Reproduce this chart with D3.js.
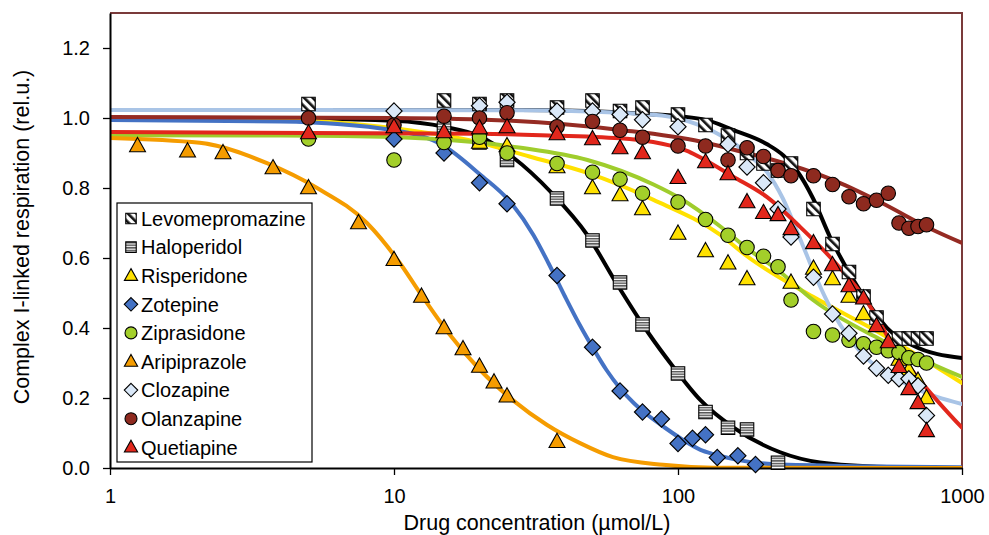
<!DOCTYPE html>
<html><head><meta charset="utf-8">
<script src="https://cdn.jsdelivr.net/npm/d3@7"></script>
<style>body{margin:0;background:#fff}svg{display:block}text{font-family:"Liberation Sans",Arial,sans-serif;fill:#000}</style>
</head><body><svg id="c" width="989" height="535"></svg>
<script>
// ---------- data ----------
const xTicks = [1, 10, 100, 1000];
const yTicks = [0, 0.2, 0.4, 0.6, 0.8, 1.0, 1.2];
const drugNames = ["Levomepromazine","Haloperidol","Risperidone","Zotepine","Ziprasidone","Aripiprazole","Clozapine","Olanzapine","Quetiapine"];

const concLevo = [5,15,20,25,37.5,50,62.5,75,100,125,150,175,200,225,250,300,350,400,450,500,600,650,700,750];
const valLevo  = [1.04,1.05,1.04,1.05,1.03,1.05,1.02,1.03,1.01,0.98,0.95,0.90,0.87,0.85,0.87,0.74,0.64,0.56,0.49,0.43,0.37,0.37,0.37,0.37];
const concHalo = [15,20,25,37.5,50,62.5,75,100,125,150,175,225];
const valHalo  = [0.97,0.93,0.88,0.77,0.65,0.53,0.41,0.27,0.16,0.115,0.11,0.015];
const concRisp = [20,25,37.5,50,62.5,75,100,125,150,175,250,300,350,400,450,600,650,700,750];
const valRisp  = [0.93,0.92,0.86,0.80,0.78,0.74,0.67,0.62,0.585,0.54,0.53,0.57,0.54,0.49,0.44,0.31,0.28,0.25,0.20];
const concZote = [10,15,20,25,37.5,50,62.5,75,87.5,100,112.5,125,137.5,162.5,187.5];
const valZote  = [0.94,0.90,0.815,0.755,0.55,0.345,0.22,0.16,0.14,0.07,0.085,0.095,0.03,0.035,0.01];
const concZipr = [5,10,15,20,25,37.5,50,62.5,75,100,125,150,175,200,225,250,300,350,400,450,500,550,600,650,700,750];
const valZipr  = [0.94,0.88,0.93,0.945,0.90,0.87,0.845,0.825,0.785,0.76,0.71,0.665,0.63,0.605,0.575,0.48,0.39,0.38,0.365,0.355,0.345,0.335,0.33,0.315,0.31,0.30];
const concArip = [1.25,1.875,2.5,3.75,5,7.5,10,12.5,15,17.5,20,22.5,25,37.5];
const valArip  = [0.92,0.905,0.90,0.857,0.80,0.70,0.595,0.49,0.40,0.34,0.29,0.245,0.205,0.075];
const concCloz = [10,20,25,37.5,50,62.5,75,100,150,175,200,225,250,300,350,400,450,500,550,600,650,700,750];
const valCloz  = [1.02,1.035,1.045,1.02,1.02,1.01,0.995,0.975,0.925,0.86,0.815,0.74,0.66,0.545,0.44,0.385,0.32,0.285,0.265,0.255,0.255,0.235,0.15];
const concOlan = [5,10,15,20,25,37.5,50,62.5,75,100,125,150,175,200,225,250,300,350,400,450,500,550,600,650,700,750];
const valOlan  = [1.0,0.98,1.005,1.0,1.015,0.975,0.99,0.965,0.945,0.92,0.92,0.88,0.915,0.89,0.85,0.835,0.835,0.81,0.775,0.755,0.765,0.785,0.70,0.685,0.69,0.695];
const concQuet = [5,10,15,20,25,37.5,50,62.5,75,100,125,150,175,200,225,250,300,350,400,450,500,550,600,650,700,750];
const valQuet  = [0.957,0.974,0.96,0.971,0.974,0.954,0.94,0.914,0.90,0.829,0.874,0.84,0.76,0.729,0.723,0.683,0.643,0.58,0.52,0.485,0.406,0.36,0.289,0.226,0.186,0.106];

// fitted curves: [concentration, value]
const fitLevo = [[1,1.023],[28,1.023],[80,1.011],[126,0.994],[156,0.966],[206,0.925],[235,0.893],[262,0.85],[299,0.77],[343,0.66],[404,0.553],[486,0.452],[545,0.40],[672,0.35],[1000,0.314]];
const fitHalo = [[1,1.0],[5,0.998],[10,0.992],[15,0.975],[20,0.948],[26,0.89],[36,0.785],[48,0.665],[61,0.525],[78,0.39],[96,0.29],[120,0.194],[156,0.117],[229,0.045],[316,0.016],[545,0.003],[1000,0.0]];
const fitRisp = [[1,1.0],[4,0.995],[9,0.975],[20,0.93],[30,0.89],[48,0.843],[82,0.766],[141,0.666],[175,0.605],[299,0.489],[514,0.386],[1000,0.243]];
const fitZote = [[1,0.994],[4,0.99],[10,0.965],[15,0.92],[20,0.84],[26,0.755],[31,0.665],[35,0.585],[40,0.49],[45,0.41],[50,0.345],[56,0.28],[62.5,0.228],[70,0.185],[78,0.152],[90,0.115],[102,0.085],[120,0.052],[133,0.04],[160,0.024],[229,0.01],[1000,0.002]];
const fitZipr = [[1,0.951],[4,0.95],[10,0.946],[20,0.93],[28,0.915],[48,0.88],[82,0.81],[102,0.77],[141,0.69],[175,0.628],[229,0.56],[299,0.48],[514,0.368],[1000,0.26]];
const fitArip = [[1,0.943],[2.07,0.929],[3.57,0.871],[5.36,0.80],[8.03,0.70],[10.5,0.585],[12.35,0.50],[15.4,0.39],[20.1,0.28],[26.2,0.194],[34.6,0.123],[45.2,0.071],[59,0.031],[88.5,0.009],[133,0.001],[1000,0]];
const fitCloz = [[1,1.023],[28,1.022],[82,1.009],[141,0.951],[156,0.93],[180,0.89],[206,0.845],[234,0.77],[269,0.655],[308,0.54],[343,0.46],[372,0.41],[420,0.35],[474,0.305],[550,0.27],[620,0.245],[816,0.203],[1000,0.183]];
const fitOlan = [[1,1.003],[10,1.0],[26,0.992],[62.5,0.966],[120,0.933],[165,0.905],[206,0.885],[351,0.823],[514,0.76],[791,0.68],[1000,0.643]];
const fitQuet = [[1,0.96],[20,0.955],[33,0.951],[62.5,0.942],[107,0.907],[120,0.887],[156,0.833],[206,0.774],[269,0.689],[351,0.594],[463,0.475],[514,0.415],[545,0.378],[711,0.251],[1000,0.115]];

// ---------- styles ----------
const styles = [
  {marker:"square", fill:"url(#hatch)", line:"#000"},
  {marker:"square", fill:"url(#stripes)", line:"#000"},
  {marker:"triangle", fill:"#ffe100", line:"#ffe100"},
  {marker:"diamond", fill:"#4472c4", line:"#4472c4"},
  {marker:"circle", fill:"#a3cf2a", line:"#9fcd2c"},
  {marker:"triangle", fill:"#f59c00", line:"#f59c00"},
  {marker:"diamond", fill:"#dae8f8", line:"#a9c4e6"},
  {marker:"circle", fill:"#8e2a1f", line:"#952b23"},
  {marker:"triangle", fill:"#e2271c", line:"#e2271c"}
];
const concs = [concLevo,concHalo,concRisp,concZote,concZipr,concArip,concCloz,concOlan,concQuet];
const vals  = [valLevo,valHalo,valRisp,valZote,valZipr,valArip,valCloz,valOlan,valQuet];
const fits  = [fitLevo,fitHalo,fitRisp,fitZote,fitZipr,fitArip,fitCloz,fitOlan,fitQuet];

const L = 110, R = 962, T = 13, B = 468;
const svg = d3.select("#c");
const xs = d3.scaleLog().domain([1,1000]).range([L,R]);
const ys = d3.scaleLinear().domain([0,1.3]).range([B,T]);

const defs = svg.append("defs");
const hp = defs.append("pattern").attr("id","hatch").attr("patternUnits","userSpaceOnUse")
  .attr("width",6).attr("height",6).attr("patternTransform","rotate(-45)");
hp.append("rect").attr("width",6).attr("height",6).attr("fill","#fff");
hp.append("rect").attr("width",2.6).attr("height",6).attr("fill","#111");
const sp = defs.append("pattern").attr("id","stripes").attr("patternUnits","userSpaceOnUse")
  .attr("width",4).attr("height",2.6);
sp.append("rect").attr("width",4).attr("height",2.6).attr("fill","#fff");
sp.append("rect").attr("width",4).attr("height",1.5).attr("fill","#555");
defs.append("clipPath").attr("id","plot").append("rect").attr("x",L).attr("y",T).attr("width",R-L).attr("height",B-T);

function markerPath(type, s){
  if(type==="square") return `M${-s/2},${-s/2}h${s}v${s}h${-s}Z`;
  if(type==="diamond"){const d=s*0.56; return `M0,${-d}L${d},0L0,${d}L${-d},0Z`;}
  if(type==="triangle"){const w=s*1.1,h=s*0.98; return `M0,${-h*0.6}L${w/2},${h*0.4}L${-w/2},${h*0.4}Z`;}
  return null;
}
function drawMarker(g, type, fill, x, y, s){
  if(type==="circle") g.append("circle").attr("cx",x).attr("cy",y).attr("r",s/2)
      .attr("fill",fill).attr("stroke","#000").attr("stroke-width",1.1);
  else g.append("path").attr("d",markerPath(type,s)).attr("transform",`translate(${x},${y})`)
      .attr("fill",fill).attr("stroke","#000").attr("stroke-width",1.1);
}

// frame (top/right)
svg.append("path").attr("d",`M${L},${T}H${R}V${B}`).attr("fill","none").attr("stroke","#7a3a3a").attr("stroke-width",2);

// curves
const line = d3.line().x(d=>xs(d[0])).y(d=>ys(d[1])).curve(d3.curveMonotoneX);
const lg = svg.append("g").attr("clip-path","url(#plot)");
fits.forEach((f,i)=>{
  lg.append("path").attr("d",line(f)).attr("fill","none")
    .attr("stroke",styles[i].line).attr("stroke-width",4).attr("stroke-linecap","round");
});

// axes
const yAxis = svg.append("g").attr("transform",`translate(${L},0)`)
  .call(d3.axisLeft(ys).tickValues(yTicks).tickFormat(d3.format(".1f")).tickSize(7).tickSizeOuter(0).tickPadding(13));
const xAxis = svg.append("g").attr("transform",`translate(0,${B})`)
  .call(d3.axisBottom(xs).tickValues(xTicks).tickFormat(d3.format("d")).tickSize(7).tickSizeOuter(0).tickPadding(14));
[yAxis,xAxis].forEach(a=>{
  a.select(".domain").attr("stroke","#000").attr("stroke-width",2);
  a.selectAll(".tick line").attr("stroke","#000").attr("stroke-width",1.3);
  a.selectAll(".tick text").attr("font-size",20).attr("font-family","Liberation Sans, Arial, sans-serif").attr("fill","#000");
});

// markers
const mg = svg.append("g");
concs.forEach((cs,i)=>{
  const st = styles[i];
  const s = st.marker==="circle"?14.5:(st.marker==="square"?13.5:14.5);
  cs.forEach((c,j)=> drawMarker(mg, st.marker, st.fill, xs(c), ys(vals[i][j]), s));
});

// legend
const leg = svg.append("g");
leg.append("rect").attr("x",117).attr("y",203).attr("width",195).attr("height",259)
  .attr("fill","#fff").attr("stroke","#000").attr("stroke-width",1.2);
drugNames.forEach((n,i)=>{
  const y = 218.5 + i*28.6;
  const st = styles[i];
  drawMarker(leg, st.marker, st.fill, 131, y, st.marker==="square"?10.5:12);
  leg.append("text").attr("x",141).attr("y",y).attr("dy","0.36em").attr("font-size",20).text(n);
});

// titles
svg.append("text").attr("x",537).attr("y",530).attr("text-anchor","middle").attr("font-size",21.5)
  .text("Drug concentration (µmol/L)");
svg.append("text").attr("transform",`translate(29,237) rotate(-90)`).attr("text-anchor","middle")
  .attr("font-size",21.5).text("Complex I-linked respiration (rel.u.)");
</script></body></html>
